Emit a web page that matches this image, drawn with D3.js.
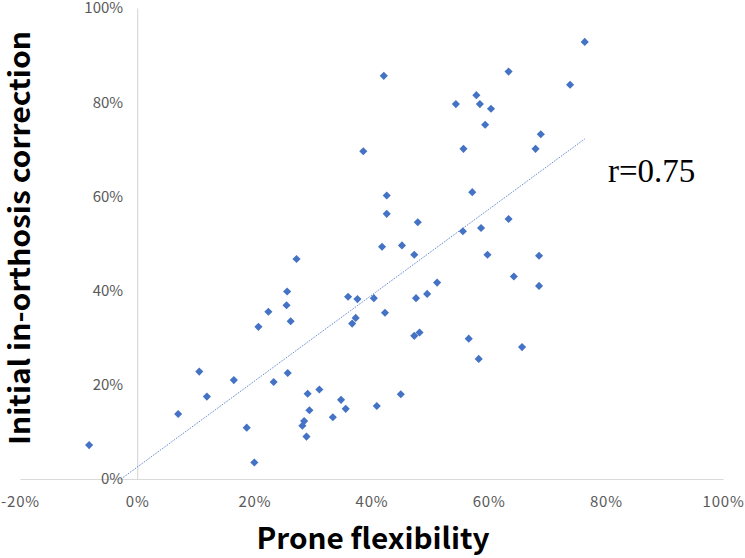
<!DOCTYPE html>
<html>
<head>
<meta charset="utf-8">
<script src="https://cdn.jsdelivr.net/npm/d3@7"></script>
<style>
  html, body { margin: 0; padding: 0; background: #ffffff; }
  svg { display: block; }
</style>
</head>
<body>
<svg id="chart" width="745" height="558"></svg>
<script>
// Prone flexibility (%) — x values
const proneFlexibility = [
  -8.2, 7.0, 10.6, 11.9, 16.5, 18.7, 20.0, 20.7, 22.4, 23.3,
  25.5, 25.6, 26.2, 27.2, 25.7, 29.1, 31.1, 29.4, 28.5, 28.2,
  28.9, 33.4, 34.8, 35.6, 36.0, 37.6, 37.3, 36.7, 40.4, 40.9,
  42.3, 41.8, 45.0, 42.6, 42.6, 47.9, 45.2, 47.3, 57.2, 55.6,
  58.7, 63.4, 59.8, 68.6, 64.3, 68.6, 51.2, 49.5, 47.6, 47.3,
  48.2, 56.6, 58.3, 65.7, 42.1, 38.6, 54.4, 57.9, 58.5, 60.4,
  59.4, 63.4, 55.7, 73.9, 76.4, 68.9, 68.0
];
// Initial in-orthosis correction (%) — y values
const initialCorrection = [
  7.2, 13.8, 22.8, 17.5, 21.0, 10.9, 3.5, 32.3, 35.5, 20.6,
  36.9, 39.8, 33.5, 46.7, 22.5, 18.1, 19.0, 14.6, 12.3, 11.3,
  9.0, 13.1, 16.8, 14.9, 38.7, 38.2, 34.2, 33.0, 38.4, 15.5,
  35.3, 49.3, 18.0, 60.2, 56.3, 54.5, 49.6, 47.6, 60.9, 52.6,
  53.3, 55.2, 47.6, 47.4, 43.0, 41.0, 41.7, 39.3, 38.4, 30.4,
  31.1, 29.8, 25.5, 28.0, 85.6, 69.6, 79.6, 81.5, 79.6, 78.6,
  75.2, 86.5, 70.1, 83.7, 92.8, 73.2, 70.1
];
const xTickValues = [-20, 0, 20, 40, 60, 80, 100];
const xTickLabels = ["-20%", "0%", "20%", "40%", "60%", "80%", "100%"];
const yTickValues = [0, 20, 40, 60, 80, 100];
const yTickLabels = ["0%", "20%", "40%", "60%", "80%", "100%"];
const xTitle = "Prone flexibility";
const yTitle = "Initial in-orthosis correction";
const rLabel = "r=0.75";

const svg = d3.select("#chart");
const x = d3.scaleLinear().domain([-20, 100]).range([20, 723]);
const y = d3.scaleLinear().domain([0, 100]).range([479, 8]);

const tickFont = "'Noto Sans CJK SC', 'Noto Sans', sans-serif";

// clip for plot area
svg.append("defs").append("clipPath").attr("id", "plotClip")
  .append("rect")
  .attr("x", x(-20)).attr("y", y(100))
  .attr("width", x(100) - x(-20)).attr("height", y(0) - y(100));

// X axis
const xAxis = svg.append("g")
  .attr("transform", `translate(0,${y(0)})`)
  .call(d3.axisBottom(x).tickValues(xTickValues)
    .tickFormat((d, i) => xTickLabels[i]).tickSize(0).tickSizeOuter(0).tickPadding(17));
xAxis.select(".domain").attr("stroke", "#d9d9d9").attr("stroke-width", 1.2);
xAxis.selectAll("text").attr("fill", "#595959").style("font-family", tickFont)
  .style("font-size", "15px").style("letter-spacing", "0.8px");

// Y axis
const yAxis = svg.append("g")
  .attr("transform", `translate(${x(0)},0)`)
  .call(d3.axisLeft(y).tickValues(yTickValues)
    .tickFormat((d, i) => yTickLabels[i]).tickSize(0).tickSizeOuter(0).tickPadding(14));
yAxis.select(".domain").attr("stroke", "#d9d9d9").attr("stroke-width", 1.2);
yAxis.selectAll("text").attr("fill", "#595959").style("font-family", tickFont)
  .style("font-size", "15px");

// Trendline (least squares from data)
const n = proneFlexibility.length;
const mx = d3.mean(proneFlexibility), my = d3.mean(initialCorrection);
let sxy = 0, sxx = 0;
for (let i = 0; i < n; i++) {
  sxy += (proneFlexibility[i] - mx) * (initialCorrection[i] - my);
  sxx += (proneFlexibility[i] - mx) ** 2;
}
const slope = sxy / sxx, intercept = my - slope * mx;
const x0 = d3.min(proneFlexibility), x1 = d3.max(proneFlexibility);
svg.append("line")
  .attr("clip-path", "url(#plotClip)")
  .attr("x1", x(x0)).attr("y1", y(intercept + slope * x0))
  .attr("x2", x(x1)).attr("y2", y(intercept + slope * x1))
  .attr("stroke", "#4472C4").attr("stroke-width", 1)
  .attr("stroke-dasharray", "1,1.2");

// Points (diamonds)
const diamond = d3.symbol().type(d3.symbolDiamond2).size(42);
svg.append("g").selectAll("path")
  .data(proneFlexibility.map((v, i) => [v, initialCorrection[i]]))
  .join("path")
  .attr("d", diamond)
  .attr("transform", d => `translate(${x(d[0])},${y(d[1])})`)
  .attr("fill", "#4472C4");

// r label
svg.append("text")
  .attr("x", 608).attr("y", 182)
  .style("font-family", "'Liberation Serif', 'Times New Roman', serif")
  .style("font-size", "33px")
  .attr("fill", "#000")
  .text(rLabel);

// X title
svg.append("text")
  .attr("x", 373).attr("y", 549)
  .attr("text-anchor", "middle")
  .style("font-family", tickFont)
  .style("font-weight", "bold")
  .style("font-size", "29px")
  .attr("fill", "#000")
  .attr("textLength", 233).attr("lengthAdjust", "spacingAndGlyphs")
  .text(xTitle);

// Y title
svg.append("text")
  .attr("transform", "translate(30,238) rotate(-90)")
  .attr("text-anchor", "middle")
  .style("font-family", tickFont)
  .style("font-weight", "bold")
  .style("font-size", "28px")
  .attr("fill", "#000")
  .attr("textLength", 414).attr("lengthAdjust", "spacingAndGlyphs")
  .text(yTitle);
</script>
</body>
</html>
